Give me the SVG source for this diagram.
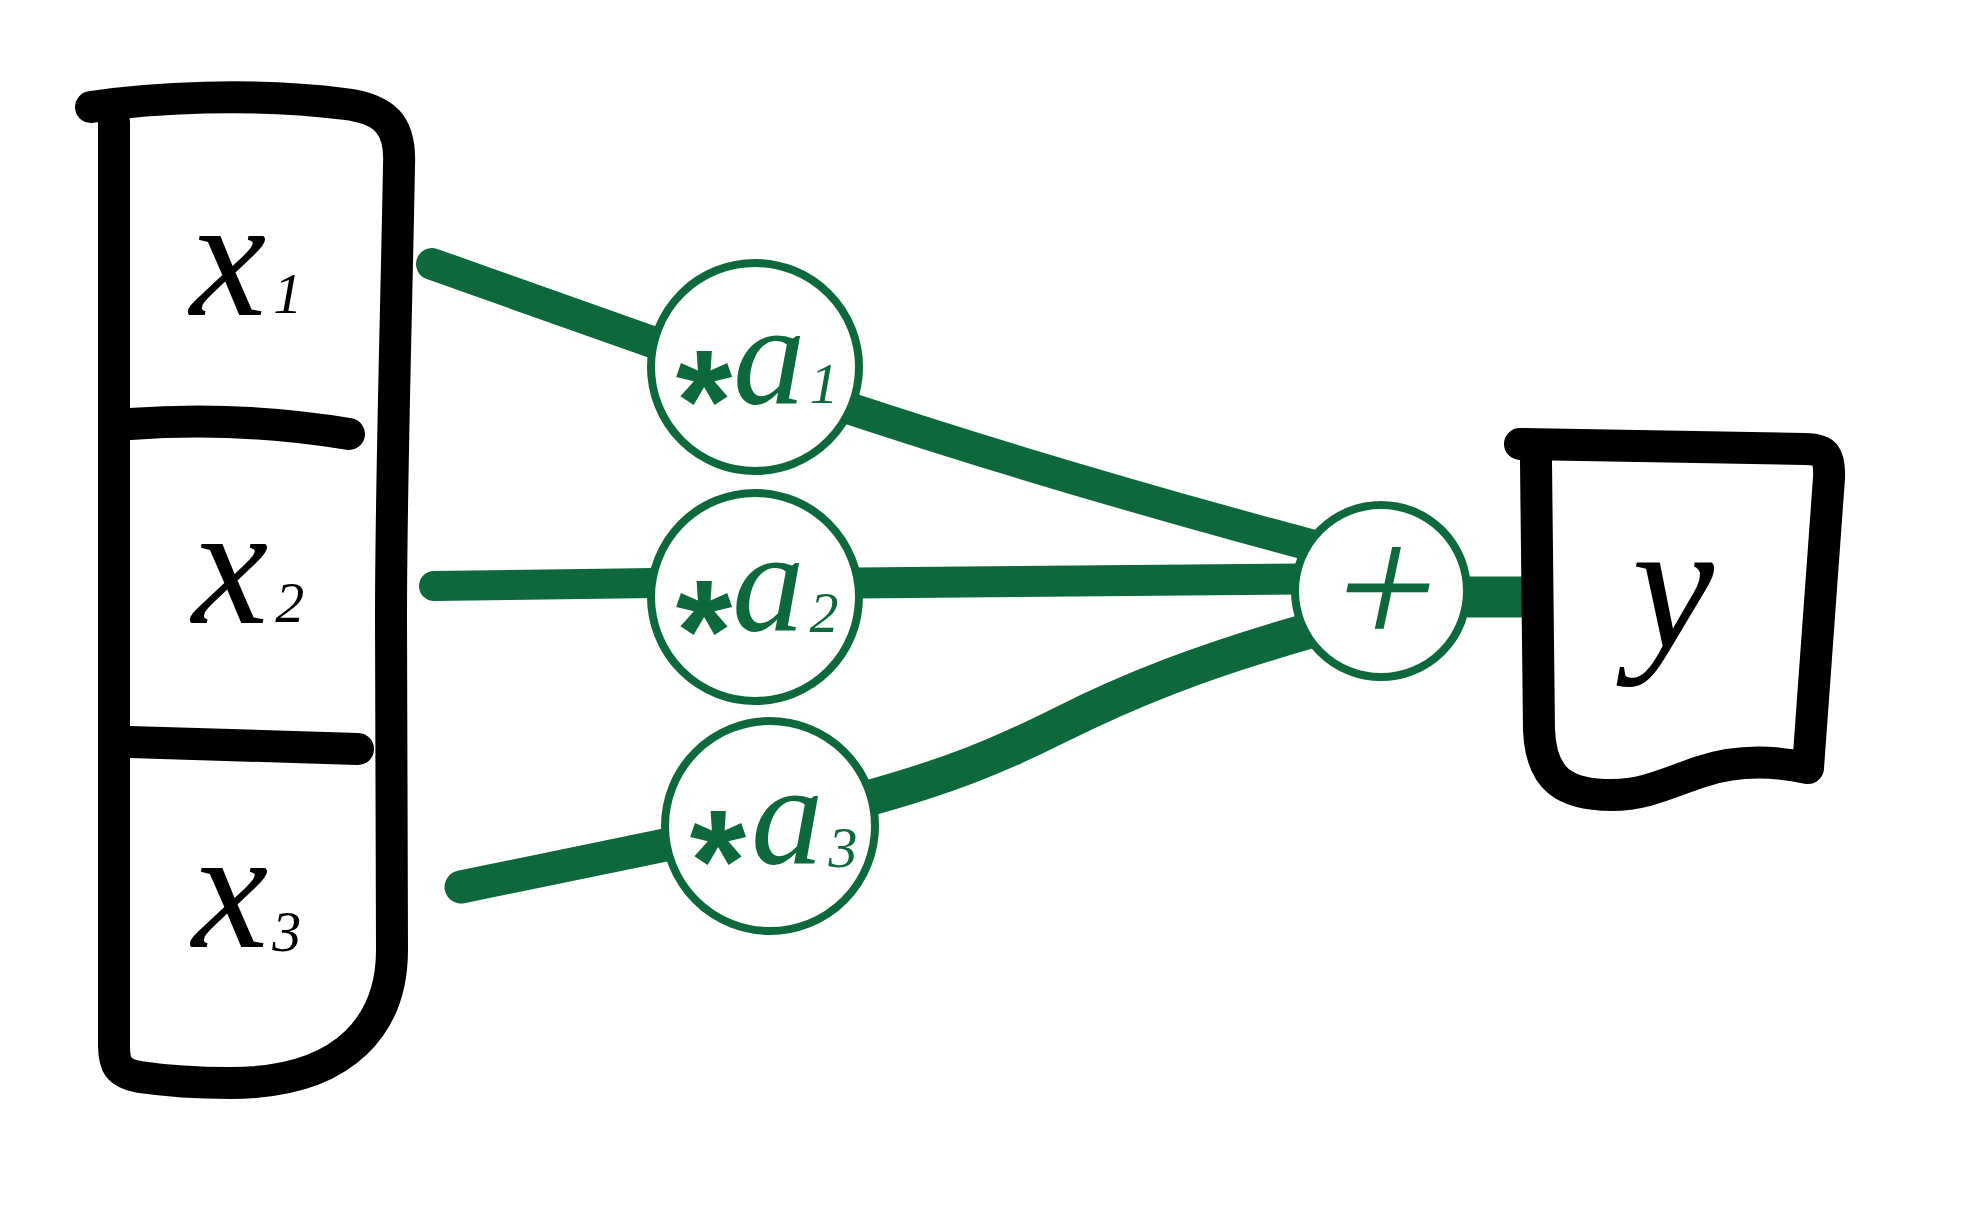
<svg xmlns="http://www.w3.org/2000/svg" width="1982" height="1224" viewBox="0 0 1982 1224">
<style>
.ink{fill:none;stroke:#000;stroke-width:32;stroke-linecap:round;stroke-linejoin:round}
.wire{fill:none;stroke:#0d683c;stroke-linecap:round;stroke-linejoin:round}
.node{fill:#fff;stroke:#0d683c;stroke-width:8}
.var{font-family:"Liberation Serif","Times New Roman",serif;font-style:italic;fill:#000}
.gvar{font-family:"Liberation Serif","Times New Roman",serif;font-style:italic;fill:#0d683c}
.ast{font-family:"Liberation Sans",Arial,sans-serif;font-weight:bold;fill:#0d683c;text-anchor:middle}
.sub{font-size:58px}
</style>
<rect width="1982" height="1224" fill="#fff"/>
<g id="connectors">
<path class="wire" stroke-width="32" d="M 432,264 L 655,343"/>
<path class="wire" stroke-width="30" d="M 434,586 L 655,583"/>
<path class="wire" stroke-width="33" d="M 461,887 L 670,844"/>
<path class="wire" stroke-width="32" d="M 845,407 Q 1060,478 1310,545"/>
<path class="wire" stroke-width="31" d="M 855,583 L 1300,579"/>
<path class="wire" stroke-width="36" d="M 862,800 C 950,776 1000,755 1060,725 C 1130,690 1200,662 1305,632"/>
<path class="wire" stroke-width="41" d="M 1470,597 L 1530,597"/>
</g>
<g id="input-x">
<path class="ink" d="M 91,107 C 150,98 250,92 345,104 C 385,109 401,125 399,165 C 396,330 391,480 391,620 L 392,950 C 392,1020 350,1083 230,1083 C 190,1083 160,1080 140,1077 C 118,1073 114,1065 114,1045 L 114,122"/>
<path class="ink" d="M 130,424 Q 240,416 349,434"/>
<path class="ink" d="M 130,742 L 358,749"/>
<text class="var" x="190" y="315" font-size="172">x<tspan class="sub" dx="7" dy="-2">1</tspan></text>
<text class="var" x="192" y="623" font-size="172">x<tspan class="sub" dx="7" dy="-1">2</tspan></text>
<text class="var" x="192" y="947" font-size="172">x<tspan class="sub" dx="4" dy="4">3</tspan></text>
</g>
<g id="mul-a1">
<circle class="node" cx="755" cy="367" r="104"/>
<text class="ast" x="704" y="451" font-size="145">*</text>
<text class="gvar" x="733" y="404" font-size="145">a<tspan class="sub" dx="4" dy="-1">1</tspan></text>
</g>
<g id="mul-a2">
<circle class="node" cx="755" cy="597" r="104"/>
<text class="ast" x="704" y="681" font-size="145">*</text>
<text class="gvar" x="732" y="631" font-size="145">a<tspan class="sub" dx="5" dy="1">2</tspan></text>
</g>
<g id="mul-a3">
<circle class="node" cx="770" cy="826" r="105"/>
<text class="ast" x="718" y="911" font-size="145">*</text>
<text class="gvar" x="751" y="864" font-size="145">a<tspan class="sub" dx="5" dy="3">3</tspan></text>
</g>
<g id="sum">
<circle class="node" cx="1381" cy="591" r="86"/>
<text class="gvar" transform="translate(1374,646) skewX(-12)" x="0" y="0" font-size="175" text-anchor="middle">+</text>
</g>
<g id="output-y">
<path class="ink" d="M 1536,462 L 1539,730 C 1541,780 1565,795 1612,795 C 1645,795 1670,782 1700,772 C 1735,760 1770,760 1808,768 L 1829,478 C 1830,455 1825,449 1805,449 L 1520,444"/>
<text class="var" x="1632" y="647" font-size="185">y</text>
</g>
</svg>
